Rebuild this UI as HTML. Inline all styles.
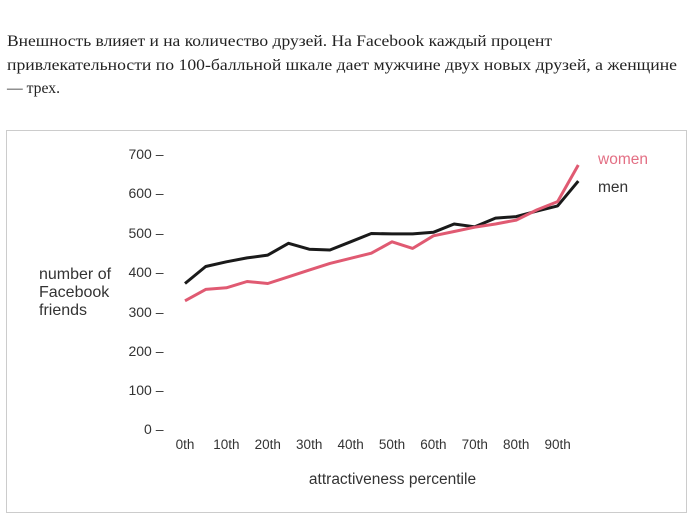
<!DOCTYPE html>
<html>
<head>
<meta charset="utf-8">
<style>
  html, body { margin: 0; padding: 0; background: #ffffff; }
  body { width: 695px; height: 515px; overflow: hidden; }
  svg { display: block; }
  .hdr { font-family: "Liberation Serif", "Noto Serif CJK SC", serif; font-size: 16px; fill: #222; }
  .ax { font-family: "Liberation Sans", "DejaVu Sans", sans-serif; fill: #333; }
</style>
</head>
<body>
<svg width="695" height="515" viewBox="0 0 695 515" xmlns="http://www.w3.org/2000/svg">
  <rect x="0" y="0" width="695" height="515" fill="#ffffff"/>
  <!-- header paragraph -->
  <text class="hdr" x="7" y="46" textLength="545" lengthAdjust="spacingAndGlyphs">Внешность влияет и на количество друзей. На Facebook каждый процент</text>
  <text class="hdr" x="7" y="70" textLength="670" lengthAdjust="spacingAndGlyphs">привлекательности по 100-балльной шкале дает мужчине двух новых друзей, а женщине</text>
  <text class="hdr" x="7" y="93" textLength="53" lengthAdjust="spacingAndGlyphs">— трех.</text>

  <!-- chart frame -->
  <rect x="6.5" y="130.5" width="680" height="382" fill="none" stroke="#cccccc" stroke-width="1"/>

  <!-- y tick labels -->
  <g class="ax" font-size="14" text-anchor="end">
    <text x="163.5" y="159">700 –</text>
    <text x="163.5" y="198">600 –</text>
    <text x="163.5" y="238">500 –</text>
    <text x="163.5" y="277">400 –</text>
    <text x="163.5" y="317">300 –</text>
    <text x="163.5" y="356">200 –</text>
    <text x="163.5" y="395">100 –</text>
    <text x="163.5" y="434">0 –</text>
  </g>

  <!-- y axis title -->
  <g class="ax" font-size="16">
    <text x="39" y="279">number of</text>
    <text x="39" y="297">Facebook</text>
    <text x="39" y="315">friends</text>
  </g>

  <!-- x tick labels -->
  <g class="ax" font-size="13.5" text-anchor="middle">
    <text x="185" y="449">0th</text>
    <text x="226.4" y="449">10th</text>
    <text x="267.8" y="449">20th</text>
    <text x="309.2" y="449">30th</text>
    <text x="350.6" y="449">40th</text>
    <text x="392" y="449">50th</text>
    <text x="433.4" y="449">60th</text>
    <text x="474.8" y="449">70th</text>
    <text x="516.2" y="449">80th</text>
    <text x="557.6" y="449">90th</text>
  </g>

  <!-- x axis title -->
  <text class="ax" font-size="15.5" x="392.5" y="484" text-anchor="middle">attractiveness percentile</text>

  <!-- men line -->
  <polyline fill="none" stroke="#1a1a1a" stroke-width="3" stroke-linejoin="round" stroke-linecap="butt"
    points="185,283.5 205.7,266.5 226.4,261.8 247.1,257.9 267.8,255.1 288.5,243.3 309.2,249.2 329.9,250.0 350.6,241.8 371.3,233.5 392,233.9 412.7,233.9 433.4,232.3 454.1,224.0 474.8,226.8 495.5,218.1 516.2,216.6 536.9,211.1 557.6,205.9 578.3,181.1"/>

  <!-- women line -->
  <polyline fill="none" stroke="#e05a72" stroke-width="3" stroke-linejoin="round" stroke-linecap="butt"
    points="185,300.8 205.7,289.4 226.4,287.8 247.1,281.5 267.8,283.5 288.5,276.8 309.2,270.1 329.9,263.4 350.6,258.3 371.3,253.2 392,241.8 412.7,248.4 433.4,235.8 454.1,231.5 474.8,227.2 495.5,224.0 516.2,220.1 536.9,209.9 557.6,201.6 578.3,165.0"/>

  <!-- legend -->
  <text class="ax" font-size="15.5" x="598" y="164" style="fill:#e36f84">women</text>
  <text class="ax" font-size="15.5" x="598" y="192">men</text>
</svg>
</body>
</html>
